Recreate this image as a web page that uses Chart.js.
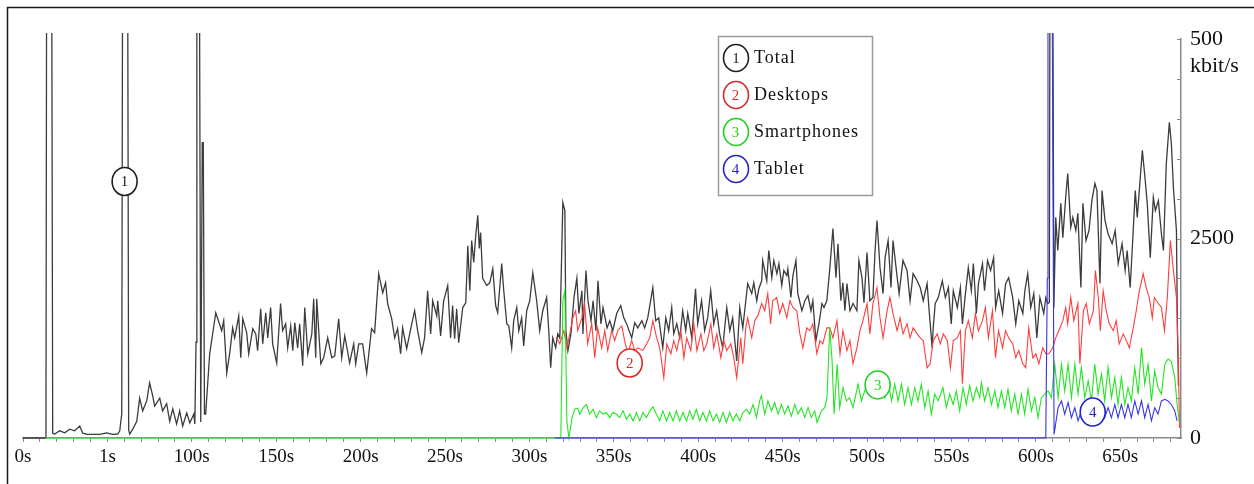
<!DOCTYPE html>
<html>
<head>
<meta charset="utf-8">
<script src="https://cdn.jsdelivr.net/npm/chart.js@4/dist/chart.umd.min.js"></script>
<style>
html,body{margin:0;padding:0;background:#fff;overflow:hidden}
canvas{display:block}
</style>
</head>
<body>
<canvas id="c" width="1254" height="484"></canvas>
<script>
// ---------- DATA ----------
const xTickLabels = ['0s','1s','100s','150s','200s','250s','300s','350s','400s','450s','500s','550s','600s','650s'];
const yTickValues = [0, 2500, 5000];
const yTickTexts  = ['0', '2500', '500'];
const yUnit = 'kbit/s';
const seriesNames = ['Total', 'Desktops', 'Smartphones', 'Tablet'];

const totalTime = [
0,13,13.6,14,17,17.6,18.8,21.7,24.7,27.7,
30.6,33.6,35.4,38.3,41.3,45.4,49.6,53.1,56.1,57.3,
58.5,59,62,62.6,63.2,65,67.4,69.1,70.9,73.3,
75,76.8,78,81,82.7,85.1,86.9,88.7,91,92.8,
94.6,97,98.8,101.2,101.8,102.5,103,104.5,105.3,106.2,
106.8,107.5,108.2,110.6,114.2,117.7,118.9,120.7,122.5,124.2,
125.4,127.8,129,130.2,132.5,133.7,136.1,137.9,139,140.8,
142,143.8,145,146.7,147.9,150.3,152.6,153.8,155.6,156.8,
158.6,159.8,161,162.7,163.9,165.7,166.9,168.7,171.1,172.2,
173.4,174,176.4,178.1,180.5,182.9,184.7,187,188.8,190.6,
193.5,195.9,197.1,198.9,201.2,203.6,206.5,208.3,210.7,213.1,
214.8,216,218.4,220.2,221.9,223.7,224.9,227.3,230.3,232,
233.8,236.2,237.9,239.7,241.5,242.7,245.1,245.7,247.4,249.2,
251.6,253.3,254.5,255.7,256.9,258.1,260.5,262.3,263.5,264.7,
265.8,267,268.2,269.4,270.3,271.1,272.3,274.7,276.5,278.3,
280,281.2,283.6,284.8,286.6,287.8,289.5,290.7,292.5,293.7,
295.4,296.6,298.4,300.2,302,304.3,306.1,307.9,310.2,311.4,
312.6,313.8,315.6,316.8,318,319.8,321,321.6,322.8,324.6,
326.4,328.1,329.3,331.1,331.7,333.5,334.7,336.5,337.7,339.4,
340.6,342.4,343.6,346,347.6,349.4,351.7,354.1,355.9,357.6,
360.6,362.4,364.2,366.6,368.3,370.1,373.1,374.8,376.6,379,
380.8,382.5,384.3,385.5,387.3,389.1,390.8,392.6,393.8,396.2,
398.4,399.7,402,403.8,405.6,407.4,409.2,410.9,412.7,414.5,
416.9,418.7,420.4,422.8,424.6,426.4,428.2,429.3,431.7,432.9,
434.7,435.9,437.6,438.2,440.6,441.8,443.6,444.8,446.6,447.8,
449.5,450.7,452.5,453.1,454.9,456.1,457.9,459,461.4,463.2,
465,466.8,467.9,469.7,471.5,473.3,474.5,476.2,478,479.8,
481.6,482.8,484.5,485.7,486.9,488.1,489.9,491.7,494,495.2,
497,498.2,500,501.7,503.5,504.7,505.9,507.7,509.5,510.7,
512.5,514.2,515.4,517.2,519,521.3,523.7,525.5,527.3,529.7,
531.5,533.3,535.6,536.8,538.6,539.2,540.4,542.2,544.6,546.4,
548.2,549.9,551.1,553.5,555.3,556.5,558.3,560,561.8,563,
564.8,566,568.4,569.6,571.4,573.2,575,576.2,578,580.3,
582.1,583.9,586.3,588.1,589.9,592.3,593.5,595.2,597,598.8,
600.6,602.4,604.7,605.9,607.1,608,608.4,610,610.7,611.8,
613,614.8,616,617.7,618.9,620.7,621.9,623.7,624.9,626.7,
627.9,629.7,631.5,633.2,635,636.2,638,639.2,641,642.8,
645.2,647,648.8,651.1,652.9,654.1,655.9,657.7,658.9,660.1,
663.1,664.8,666,667.8,669.6,670.8,672.6,674.4,675.6,677.3,
679.1,680.3,681.5,683.3,683.9,684.5
];
const totalKbps = [
0,0,0,6000,6000,60,50,90,65,110,
90,150,60,45,45,45,65,45,50,90,
300,6000,6000,100,50,110,210,500,340,465,
690,530,400,500,340,430,210,365,175,340,
150,315,190,300,175,1200,6000,6000,200,3700,
3700,300,300,1055,1570,1345,1470,815,1070,1380,
1255,1530,1005,1495,1320,1055,1370,1305,1095,1620,
1180,1570,1255,1635,1180,940,1685,1345,1430,1130,
1405,1095,1445,1130,1430,905,1635,1055,1305,1745,
1005,1745,930,1005,1255,1005,1030,1495,1005,1280,
940,1180,930,1180,1180,815,1370,1320,2060,1820,
1945,1685,1495,1255,1370,1055,1380,1120,1430,1595,
1345,1070,1255,1845,1305,1720,1530,1720,1280,1720,
1910,1255,1660,1245,1620,1195,1635,1695,2410,1845,
2475,2200,2535,2790,2375,2575,2000,1910,1945,2120,
1660,1570,2185,1845,1430,1405,1130,1470,1635,1345,
1505,1155,1595,1720,2070,1720,1345,1595,1760,1370,
880,1255,1130,1305,1255,2950,2850,1345,1095,1305,
1760,2000,1560,1845,1305,2100,1720,1470,1720,1345,
1970,1430,1635,1380,1470,1345,1560,1660,1505,1430,
1255,1445,1380,1470,1380,1505,1885,1470,1505,1130,
1505,1345,1635,1305,1430,1255,1595,1345,1560,1255,
1870,1430,1720,1345,1505,1845,1430,1595,1305,1130,
1635,1345,1505,965,1635,1380,1720,1935,1810,1945,
1720,1870,1970,2225,1970,2350,2010,2225,2060,2185,
1910,2100,2035,2120,1760,2035,2225,1810,1595,1720,
1785,1595,1720,1220,1430,1685,1635,1720,2135,2625,
2010,2435,1720,1945,1595,1935,1595,1685,1595,2225,
2010,1695,2325,1720,1760,2325,2725,2135,1810,2260,
2475,1885,2475,2135,1810,2225,2100,1720,2060,1970,
1885,1720,1935,1595,1130,1380,1685,1760,1970,1760,
1885,1430,1845,1635,1885,1430,1810,2135,1845,2185,
1560,1935,2185,1845,2225,2100,2260,1635,1845,1560,
1935,2010,1760,1430,1720,1560,1845,2060,1635,1810,
1255,1760,1560,1760,1685,1700,6000,6000,1635,2765,
2350,2940,2510,3015,3315,2640,2765,2600,2815,1885,
2940,2475,2600,2975,3190,3100,1935,3100,2725,2560,
2435,2600,2185,2435,2100,2350,1885,2600,3100,2765,
3605,3230,2940,2260,3015,2850,2975,2560,2350,3440,
3955,3690,3140,2600,1345,655
];

const desktopTime = [
315.6,316.2,318,320.4,322.2,323.9,325.7,327.4,328.6,331.1,
332.7,334.5,336.9,338.7,340.4,342.8,344.6,346.4,348.7,350.5,
352.3,354.7,356.4,358.2,360.6,362.4,364.2,367.1,369.5,371.3,
373.1,375.4,377.2,379.6,381.4,383.8,385.5,387.3,389.7,391.5,
393.2,395.6,397.4,399.2,401.6,403.3,405.1,407.5,409.2,411,
413.4,415.2,416.9,419.3,421.1,422.8,425.2,426.4,428.2,429.3,
431.7,433.5,435.3,437.6,439.4,441.2,442.9,444.1,446.5,448.3,
450.1,452.5,454.3,456.1,458.4,460.2,462,464.3,466.1,467.9,
470.3,472.1,473.8,476.2,478,479.8,482.2,484,485.7,488.1,
489.9,491.7,494,495.8,497.6,500,501.7,503.5,505.9,507.7,
509.5,511.9,513.6,515.4,517.8,519.6,521.3,523.7,525.5,527.3,
529.7,531.5,533.3,535.6,537.4,539.2,541.6,543.4,545.2,547.6,
549.4,551.1,553.5,555.3,556.5,558.3,560,562.4,564.2,566,
568.4,570.1,571.9,574.3,576.1,577.9,580.3,582.1,583.9,586.3,
588.1,589.9,592.3,594,595.8,598.2,600,601.8,604.1,605.9,
607.7,610,611.8,613.6,616,617.7,618.9,620.7,622.5,624.9,
626.1,628.2,629.9,631.7,634.1,635.3,637,638.2,639.9,641.7,
643.5,645.9,647.6,649.4,651.8,653.6,655.4,657.7,659.5,661.3,
663.6,665.4,667.2,669,670.2,672.6,674.4,676.2,677.9,679.7,
681.5,683.3,684.5,685.1
];
const desktopKbps = [
1255,1255,1180,1345,1130,1305,1505,1595,1345,1505,
1685,1180,1430,1005,1380,1130,1345,1095,1345,1220,
1345,1405,1220,1055,1220,1095,1130,1095,1180,1255,
1470,1255,1130,755,1180,1055,1220,1095,1345,1005,
1255,1095,1430,1095,1305,1095,1180,1430,1130,1305,
1005,1220,1095,1180,1005,755,1255,930,1380,1505,
1255,1470,1530,1685,1595,1810,1430,1720,1760,1560,
1685,1505,1720,1635,1595,1305,1130,1380,1345,1430,
1055,1220,1180,1380,1380,1255,1470,1055,1345,1095,
1220,930,1130,1345,1470,1685,1305,1685,1885,1505,
1255,1595,1760,1560,1345,1505,1305,1430,1255,1380,
1305,1255,1220,880,930,1220,1305,1180,1305,1220,
880,1220,1255,1345,680,1345,1470,1255,1560,1345,
1470,1635,1255,1595,1005,1345,1130,1345,1255,1180,
1005,1095,930,880,1380,1005,1055,930,1130,1055,
1055,1130,1255,1345,1470,1635,1430,1760,1470,1685,
930,1595,1685,1430,1595,2100,1760,1345,1845,1595,
1430,1345,1470,1180,1305,1220,1130,1380,1595,1845,
2060,1885,1760,1505,1760,1685,1635,1345,1760,2475,
2100,1760,930,125
];

const smartphoneTime = [
13,318.6,319.8,321,322.2,323.4,325.2,326.9,328.6,329.8,
331.9,333.8,335.7,337.7,339.7,341.6,343.6,345.6,347.6,349.5,
351.5,353.5,355.5,357.5,359.4,361.4,363.4,365.3,367.3,369.3,
371.3,373.2,375.2,377.2,379.1,381.2,383.1,385.1,387.1,389,
391,393,395,396.9,398.9,400.9,402.8,404.8,406.8,408.8,
410.8,412.7,414.7,416.7,418.7,420.6,422.6,424.6,426.5,428.5,
430.5,432.5,434.5,436.4,437.4,439.4,441.3,443.4,445.3,447.3,
449.3,451.2,453.2,455.2,457.2,459.1,461.1,463.1,465.1,467,
469,470.4,473,474.9,476.3,477.9,479.3,480.5,482.3,483.8,
485.8,487.8,489.7,491.7,494.7,496.7,498.6,500.6,502.6,504.6,
506.5,508.5,510.5,512.5,514.5,516.4,518.4,520.4,522.3,524.3,
526.3,528.3,530.2,532.2,534.2,536.2,538.1,540.1,542.1,545,
547,549,551,552.9,554.9,556.9,558.8,560.8,562.8,564.8,
566.8,567.7,569.7,571.7,573.7,575.7,577.6,579.6,581.6,583.5,
585.5,587.5,589.5,591.5,593.4,595.4,597.4,599.4,601.3,603.3,
605.3,607.3,609.2,611.2,613.2,615.2,617.1,619.1,621.1,623.1,
625,627,629,631,633,634.9,636.9,638.9,640.8,642.8,
644.8,646.8,648.7,650.7,652.7,654.6,656.6,658.6,660.6,662.6,
664.5,666.5,668.5,670.4,672.4,674.4,676.4,678.3,680.3,682.3,
683.7,685
];
const smartphoneKbps = [
0,0,1720,1845,210,0,250,365,375,300,
380,420,300,360,255,340,300,320,255,320,
300,255,340,235,300,215,320,215,320,255,
340,390,300,215,340,215,320,215,340,215,
320,215,340,235,360,215,320,215,340,215,
300,195,320,195,320,215,300,215,320,360,
300,420,255,465,530,300,465,340,445,300,
420,300,400,275,420,300,380,255,380,255,
340,195,340,380,505,1385,965,300,925,380,
630,465,505,380,675,465,590,715,590,630,
505,630,505,715,465,675,465,675,420,630,
420,630,465,675,380,590,300,550,465,630,
380,550,420,590,340,630,420,655,465,630,
505,695,465,630,420,590,380,590,380,610,
340,550,300,550,300,610,340,505,255,505,
550,590,505,925,505,925,590,925,505,925,
550,883,505,715,465,925,550,800,465,883,
505,760,420,760,420,630,465,883,550,1135,
675,925,465,840,630,550,925,990,960,760,
420,200
];

const tabletTime = [
315,605.9,606.8,607.2,609.6,610.4,610.8,611.2,613.2,615.2,
617.1,619.1,621.1,623.1,625,627,630,633,636,638.9,
640.8,642.8,644.8,646.8,648.7,650.7,652.7,654.6,656.6,658.6,
660.6,662.6,664.5,666.5,668.5,670.4,672.4,674.4,676.4,678.3,
680.3,682.3,683.7
];
const tabletKbps = [
0,0,2000,6000,6000,2000,45,45,380,465,
300,445,255,380,215,340,215,340,255,420,
255,380,255,420,255,420,255,420,255,465,
300,465,255,420,215,380,300,465,485,465,
420,340,215
];

// circled series numbers placed on the curves (time s, kbit/s)
const markerTime = [60.2, 359.4, 506.3, 633.7];
const markerKbps = [3215, 940, 665, 325];

// ---------- STYLE ----------
const lineColors   = ['#3c3c3c', '#ff3d3d', '#22e622', '#3535e8'];
const markerColors = ['#1e1e1e', '#d82a2a', '#1ed41e', '#2323c8'];
const lineWidths   = [1.3, 1.1, 1.1, 1.1];
const serif = '"Liberation Serif", "Times New Roman", serif';

function toPoints(ts, vs) { return ts.map((t, i) => ({ x: t, y: vs[i] })); }
const seriesData = [
  toPoints(totalTime, totalKbps),
  toPoints(desktopTime, desktopKbps),
  toPoints(smartphoneTime, smartphoneKbps),
  toPoints(tabletTime, tabletKbps)
];

function drawCircledNumber(ctx, cx, cy, n, color, rx, ry) {
  ctx.save();
  ctx.beginPath();
  ctx.ellipse(cx, cy, rx, ry, 0, 0, Math.PI * 2);
  ctx.fillStyle = '#fff';
  ctx.fill();
  ctx.lineWidth = 1.6;
  ctx.strokeStyle = color;
  ctx.stroke();
  ctx.fillStyle = color;
  ctx.font = '15px ' + serif;
  ctx.textAlign = 'center';
  ctx.textBaseline = 'middle';
  ctx.fillText(String(n), cx, cy + 1);
  ctx.restore();
}

const decor = {
  id: 'decor',
  beforeDraw(chart) {
    const ctx = chart.ctx;
    ctx.save();
    ctx.fillStyle = '#fff';
    ctx.fillRect(0, 0, chart.width, chart.height);
    ctx.strokeStyle = '#1a1a1a';
    ctx.lineWidth = 1.5;
    ctx.beginPath();
    ctx.moveTo(7.5, chart.height);
    ctx.lineTo(7.5, 7.5);
    ctx.lineTo(chart.width, 7.5);
    ctx.stroke();
    ctx.restore();
  },
  afterDraw(chart) {
    const ctx = chart.ctx;
    const area = chart.chartArea;
    const xs = chart.scales.x, ys = chart.scales.y;
    ctx.save();
    // inward tick marks on the right axis
    ctx.strokeStyle = '#8a8a8a';
    ctx.lineWidth = 1;
    ys.ticks.forEach(tk => {
      const py = Math.round(ys.getPixelForValue(tk.value)) + 0.5;
      ctx.beginPath();
      ctx.moveTo(area.right - 4, py);
      ctx.lineTo(area.right, py);
      ctx.stroke();
    });
    // unit under the top label
    ctx.fillStyle = '#111';
    ctx.font = '22px ' + serif;
    ctx.textAlign = 'left';
    ctx.textBaseline = 'middle';
    ctx.fillText(yUnit, area.right + 9, ys.getPixelForValue(ys.max) + 27);
    ctx.restore();

    // circled numbers on the curves
    markerTime.forEach((t, i) => {
      drawCircledNumber(ctx, xs.getPixelForValue(t), ys.getPixelForValue(markerKbps[i]),
        i + 1, markerColors[i], 12.5, 14);
    });

    // legend box
    const bx = 718.5, by = 36.5, bw = 154, bh = 159;
    ctx.save();
    ctx.fillStyle = '#fff';
    ctx.fillRect(bx, by, bw, bh);
    ctx.strokeStyle = '#9a9a9a';
    ctx.lineWidth = 1.5;
    ctx.strokeRect(bx, by, bw, bh);
    seriesNames.forEach((name, i) => {
      const cy = 58 + i * 37;
      drawCircledNumber(ctx, 736, cy, i + 1, markerColors[i], 12.5, 13.5);
      ctx.fillStyle = '#111';
      ctx.font = '18px ' + serif;
      ctx.textAlign = 'left';
      ctx.textBaseline = 'middle';
      try { ctx.letterSpacing = '1px'; } catch (e) {}
      ctx.fillText(name, 754, cy);
    });
    ctx.restore();
  }
};

new Chart(document.getElementById('c'), {
  type: 'line',
  data: {
    datasets: seriesNames.map((name, i) => ({
      label: name,
      data: seriesData[i],
      borderColor: lineColors[i],
      borderWidth: lineWidths[i],
      pointRadius: 0,
      tension: 0,
      fill: false,
      order: 4 - i,
      clip: { left: 2, top: 6, right: 1, bottom: 3 }
    }))
  },
  options: {
    responsive: false,
    animation: false,
    events: [],
    layout: { padding: { left: 23, top: 39, right: 0, bottom: 0 } },
    plugins: { legend: { display: false }, tooltip: { enabled: false } },
    scales: {
      x: {
        type: 'linear',
        min: 0,
        max: 686,
        afterFit(s) { s.height = 46; },
        border: { display: true, color: '#8a8a8a', width: 1.5 },
        grid: { drawOnChartArea: false, drawTicks: true, tickLength: 4, color: '#8a8a8a', tickWidth: 1 },
        ticks: {
          stepSize: 10,
          includeBounds: false,
          autoSkip: false,
          maxRotation: 0,
          padding: 4,
          color: '#111',
          font: { family: serif, size: 19 },
          callback(v) {
            const r = Math.round(v);
            return r % 50 === 0 ? xTickLabels[r / 50] : '';
          }
        }
      },
      y: {
        type: 'linear',
        position: 'right',
        min: 0,
        max: 5000,
        afterFit(s) { s.width = 73; },
        border: { display: true, color: '#8a8a8a', width: 1.5 },
        grid: { drawOnChartArea: false, drawTicks: false },
        ticks: {
          stepSize: 500,
          autoSkip: false,
          padding: 9,
          color: '#111',
          font: { family: serif, size: 22 },
          callback(v) {
            const k = yTickValues.indexOf(Math.round(v));
            return k >= 0 ? yTickTexts[k] : '';
          }
        }
      }
    }
  },
  plugins: [decor]
});
</script>
</body>
</html>
